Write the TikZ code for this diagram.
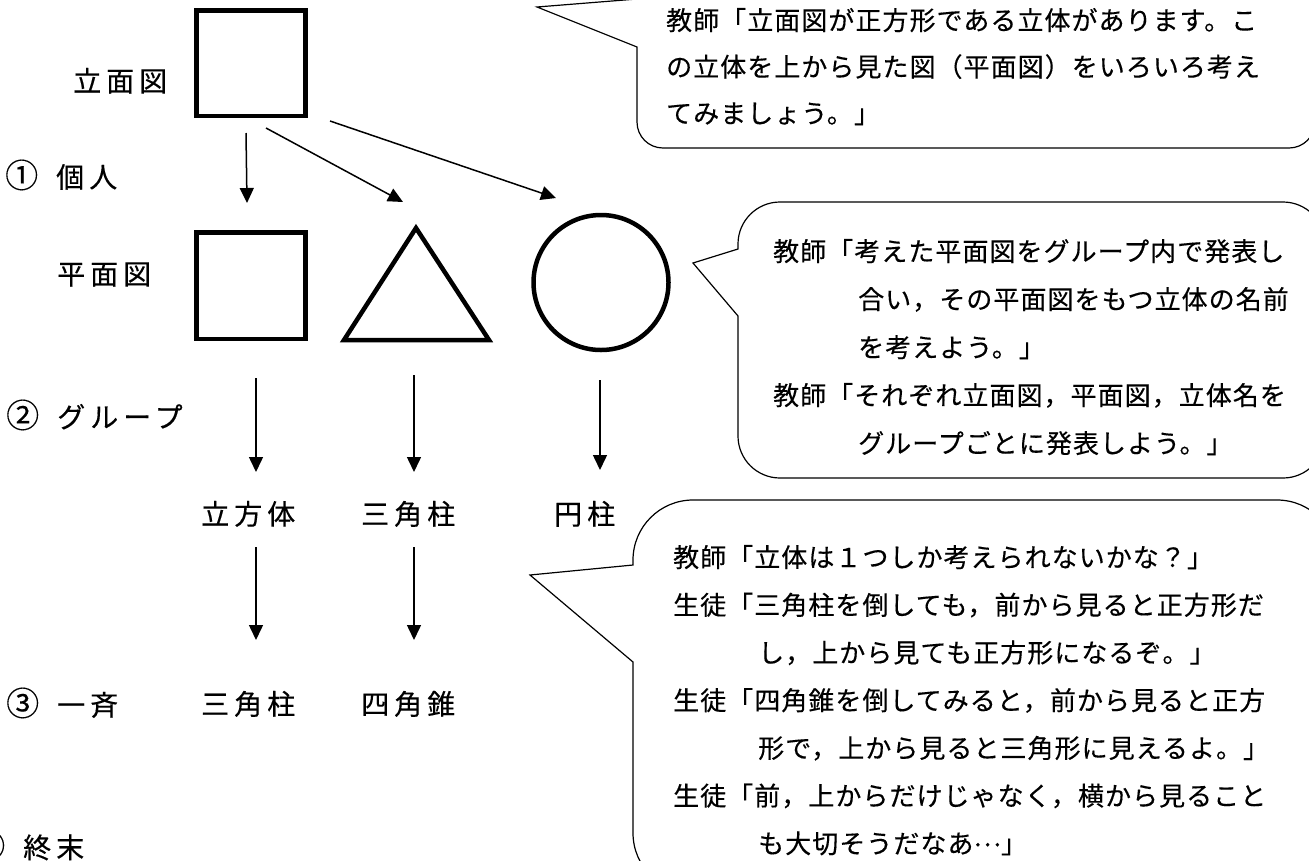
\documentclass[tikz,border=0pt]{standalone}
\usepackage{fontspec}
\usetikzlibrary{arrows.meta}
\newfontfamily\callfont[LetterSpace=4,FakeBold=0.3]{Noto Sans CJK JP}
\newfontfamily\labfont[LetterSpace=18,FakeBold=0.3]{Noto Sans CJK JP}
\newfontfamily\numfont[FakeBold=0.3]{Noto Sans CJK JP}
\newcommand{\cnum}[1]{{\numfont\fontsize{33}{34}\selectfont #1}\hspace{18pt}}
\begin{document}
\begin{tikzpicture}[x=1pt,y=-1pt,
  shapeline/.style={line width=4.5pt},
  sq/.style={shapeline,draw,minimum width=109pt,minimum height=105.5pt,inner sep=0pt},
  circ/.style={shapeline,draw,circle,minimum size=135pt,inner sep=0pt},
  arr/.style={line width=1.5pt,-{Triangle[length=15pt,width=14pt]}},
  callout/.style={line width=1.2pt,draw=black,fill=white},
  lab/.style={inner sep=0pt,anchor=base west,font=\labfont\fontsize{28}{34}\selectfont},
  callt/.style={inner sep=0pt,anchor=base west,font=\callfont\fontsize{26}{#1}\selectfont}]
\useasboundingbox (0,0) rectangle (1309,860);
\clip (0,0) rectangle (1309,860);
\fill[white] (0,0) rectangle (1309,860);

% callouts
\draw[callout] (637,-40) -- (637,-1) -- (537,7) -- (637,47) -- (637,122)
  .. controls (637,136.4) and (648.6,148) .. (663,148) -- (1289,148)
  .. controls (1303.4,148) and (1315,136.4) .. (1315,122) -- (1315,-40);
\draw[callout] (738,249) -- (693,263) -- (738,316) -- (738,436)
  .. controls (738,459.2) and (756.8,478) .. (780,478) -- (1283,478)
  .. controls (1306.2,478) and (1325,459.2) .. (1325,436) -- (1325,244)
  .. controls (1325,220.8) and (1306.2,202) .. (1283,202) -- (780,202)
  .. controls (756.8,202) and (738,220.8) .. (738,244) -- cycle;
\draw[callout] (633,565) -- (530,575) -- (633,662) -- (633,833)
  .. controls (633,866.1) and (659.9,893) .. (693,893) -- (1277,893)
  .. controls (1310.1,893) and (1337,866.1) .. (1337,833) -- (1337,560)
  .. controls (1337,526.9) and (1310.1,500) .. (1277,500) -- (693,500)
  .. controls (659.9,500) and (633,526.9) .. (633,560) -- cycle;

\node[callt=46.5] (txt1) at (666,30) {\parbox[t]{640pt}{%
教師「立面図が正方形である立体があります。こ\\
の立体を上から見た図（平面図）をいろいろ考え\\
てみましょう。」}};
\node[callt=48] (txt2) at (773,261) {\parbox[t]{540pt}{%
教師「考えた平面図をグループ内で発表し\\
\hspace*{85pt}合い，その平面図をもつ立体の名前\\
\hspace*{85pt}を考えよう。」\\
教師「それぞれ立面図，平面図，立体名を\\
\hspace*{85pt}グループごとに発表しよう。」}};
\node[callt=47.7] (txt3) at (673,567) {\parbox[t]{640pt}{%
教師「立体は１つしか考えられないかな？」\\
生徒「三角柱を倒しても，前から見ると正方形だ\\
\hspace*{85pt}し，上から見ても正方形になるぞ。」\\
生徒「四角錐を倒してみると，前から見ると正方\\
\hspace*{85pt}形で，上から見ると三角形に見えるよ。」\\
生徒「前，上からだけじゃなく，横から見ること\\
\hspace*{85pt}も大切そうだなあ\raisebox{7pt}{…}」}};

% shapes
\node[sq] (elev) at (251,63) {};
\node[sq,minimum height=106.5pt] (plansq) at (251,285.5) {};
\coordinate (triA) at (416,228);
\coordinate (triB) at (489,340);
\coordinate (triC) at (344,340);
\draw[shapeline] (triA) -- (triB) -- (triC) -- cycle;
\node[circ] (plancirc) at (601,282.5) {};

% labels
\node[lab] (lelev) at (73,91.5) {立面図};
\node[lab] (s1) at (5,187.5) {\cnum{①}個人};
\node[lab] (lplan) at (57,284.5) {平面図};
\node[lab] (s2) at (6,427.5) {\cnum{②}グループ};
\node[lab] (g1) at (201,524.5) {立方体};
\node[lab] (g2) at (361,524.5) {三角柱};
\node[lab] (g3) at (554,524.5) {円柱};
\node[lab] (s3) at (6,715.5) {\cnum{③}一斉};
\node[lab] (h1) at (201,714.5) {三角柱};
\node[lab] (h2) at (361,714.5) {四角錐};
\node[lab] (s4) at (-28,858) {\cnum{④}終末};

% arrows
\coordinate (a1s) at (246,133); \coordinate (a1e) at (247,203);
\coordinate (a2s) at (266,128); \coordinate (a2e) at (403,202);
\coordinate (a3s) at (330,121); \coordinate (a3e) at (556,198);
\coordinate (b1s) at (256,378); \coordinate (b1e) at (256,472);
\coordinate (b2s) at (414,375); \coordinate (b2e) at (414,472);
\coordinate (b3s) at (600,380); \coordinate (b3e) at (600,470);
\coordinate (c1s) at (256,547); \coordinate (c1e) at (256,640);
\coordinate (c2s) at (414,547); \coordinate (c2e) at (414,640);
\draw[arr] (a1s) -- (a1e);
\draw[arr] (a2s) -- (a2e);
\draw[arr] (a3s) -- (a3e);
\draw[arr] (b1s) -- (b1e);
\draw[arr] (b2s) -- (b2e);
\draw[arr] (b3s) -- (b3e);
\draw[arr] (c1s) -- (c1e);
\draw[arr] (c2s) -- (c2e);
\end{tikzpicture}
\end{document}
